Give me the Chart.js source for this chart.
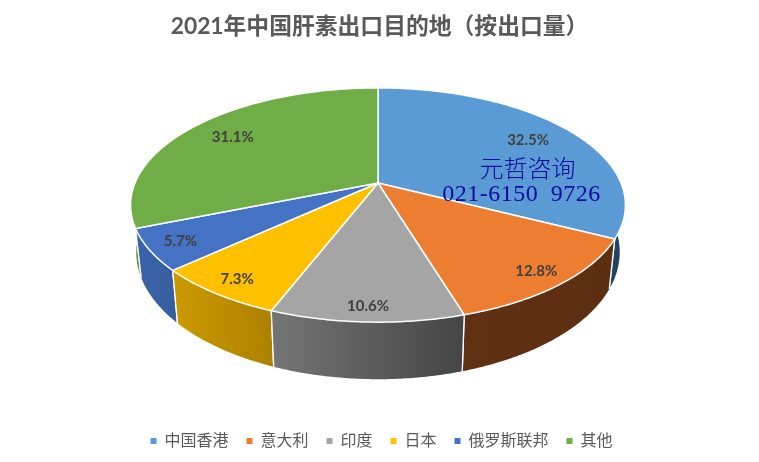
<!DOCTYPE html>
<html>
<head>
<meta charset="utf-8">
<style>html,body{margin:0;padding:0;background:#fff}canvas{display:block}</style>
<script src="https://cdn.jsdelivr.net/npm/chart.js@4"></script>
</head>
<body>
<canvas id="c" width="759" height="462"></canvas>
<script>
const titleText = '2021年中国肝素出口目的地（按出口量）';
const categories = ['中国香港', '意大利', '印度', '日本', '俄罗斯联邦', '其他'];
const shareValues = [32.5, 12.8, 10.6, 7.3, 5.7, 31.1];
const sliceColors = ['#5B9BD5', '#ED7D31', '#A5A5A5', '#FFC000', '#4472C4', '#70AD47'];
const wallLeftColors = ['#1f4361', '#603013', '#757575', '#cc9a00', '#3b64ab', '#5a8c38'];
const wallRightColors = ['#1f4361', '#5c2e12', '#454545', '#ad8100', '#375e9e', '#5a8c38'];
const watermarkLines = ['元哲咨询', '021-6150 9726'];

const fontFamily = 'Lato, "Noto Sans CJK SC", sans-serif';

// perspective projection of the unit disc onto the picture
const VIEW = {cx: 378, cy: 183, rx: 243, ry: 113, q: 0.188};
const LABEL_RADIUS = [0.78, 0.885, 0.905, 0.885, 0.877, 0.78];
function topPoint(angle, r) {
  const u = r * Math.cos(angle), v = r * Math.sin(angle);
  const s = 1 / (1 - VIEW.q * v);
  return [VIEW.cx + VIEW.rx * u * s, VIEW.cy + VIEW.ry * v * s];
}
function basePoint(angle) {
  const p = topPoint(angle, 1);
  return [VIEW.cx + 0.977 * (p[0] - VIEW.cx), 30 + 1.084 * p[1]];
}
function arcAngles(a0, a1) {
  const n = Math.max(2, Math.ceil((a1 - a0) / 0.01));
  const out = [];
  for (let i = 0; i <= n; i++) out.push(a0 + (a1 - a0) * i / n);
  return out;
}

const pie3d = {
  id: 'pie3d',
  afterLayout(chart) {
    // the reference legend row sits slightly off the canvas centre
    chart.legend.left += 2; chart.legend.right += 2;
  },
  beforeDatasetsDraw(chart) {
    const ctx = chart.ctx;
    const arcs = chart.getDatasetMeta(0).data;
    ctx.save();
    ctx.lineJoin = 'round';
    ctx.strokeStyle = '#ffffff';
    // walls
    const order = [0, 5, 1, 4, 3, 2];
    order.forEach(i => {
      const angs = arcAngles(arcs[i].startAngle, arcs[i].endAngle);
      const tops = angs.map(a => topPoint(a, 1));
      const bases = angs.map(basePoint);
      const xs = tops.map(p => p[0]);
      const g = ctx.createLinearGradient(Math.min(...xs), 0, Math.max(...xs), 0);
      g.addColorStop(0, wallLeftColors[i]);
      g.addColorStop(1, wallRightColors[i]);
      ctx.beginPath();
      tops.forEach((p, k) => k ? ctx.lineTo(p[0], p[1]) : ctx.moveTo(p[0], p[1]));
      bases.reverse().forEach(p => ctx.lineTo(p[0], p[1]));
      ctx.closePath();
      ctx.fillStyle = g;
      ctx.fill();
      // white edge lines of the wall
      ctx.lineWidth = 1.3;
      [0, angs.length - 1].forEach(k => {
        const a = topPoint(angs[k], 1), b = basePoint(angs[k]);
        ctx.beginPath(); ctx.moveTo(a[0], a[1]); ctx.lineTo(b[0], b[1]); ctx.stroke();
      });
    });
    // top faces
    arcs.forEach((arc, i) => {
      ctx.beginPath();
      ctx.moveTo(VIEW.cx, VIEW.cy);
      arcAngles(arc.startAngle, arc.endAngle).forEach(a => {
        const p = topPoint(a, 1); ctx.lineTo(p[0], p[1]);
      });
      ctx.closePath();
      ctx.fillStyle = sliceColors[i];
      ctx.fill();
      ctx.lineWidth = 1.5;
      ctx.stroke();
    });
    // value labels
    ctx.fillStyle = '#404040';
    ctx.font = 'bold 15px ' + fontFamily;
    ctx.textAlign = 'center';
    ctx.textBaseline = 'middle';
    arcs.forEach((arc, i) => {
      const mid = (arc.startAngle + arc.endAngle) / 2;
      const p = topPoint(mid, LABEL_RADIUS[i]);
      ctx.fillText(shareValues[i].toFixed(1) + '%', p[0], p[1]);
    });
    // watermark
    ctx.fillStyle = '#0a0a9c';
    ctx.font = '300 24px "Noto Sans CJK SC", serif';
    ctx.fillText(watermarkLines[0], 527.5, 168);
    ctx.font = '24px "Liberation Serif", serif';
    ctx.letterSpacing = '0.5px';
    ctx.wordSpacing = '6px';
    ctx.fillText(watermarkLines[1], 521.5, 195);
    ctx.letterSpacing = '0px';
    ctx.wordSpacing = '0px';
    ctx.restore();
    return false; // the faces above replace the flat pie
  }
};

new Chart(document.getElementById('c'), {
  type: 'pie',
  data: {
    labels: categories,
    datasets: [{data: shareValues, backgroundColor: sliceColors, borderWidth: 0}]
  },
  options: {
    responsive: false,
    animation: false,
    layout: {padding: {top: 13, bottom: 3}},
    plugins: {
      tooltip: {enabled: false},
      title: {
        display: true,
        text: titleText,
        color: '#595959',
        font: {family: fontFamily, size: 22.8, weight: 'bold'},
        padding: {top: 0, bottom: 8}
      },
      legend: {
        display: true,
        position: 'bottom',
        labels: {
          color: '#595959',
          font: {family: fontFamily, size: 16},
          usePointStyle: true,
          pointStyle: 'rect',
          boxWidth: 6,
          boxHeight: 6,
          padding: 18
        }
      }
    }
  },
  plugins: [pie3d]
});
</script>
</body>
</html>
